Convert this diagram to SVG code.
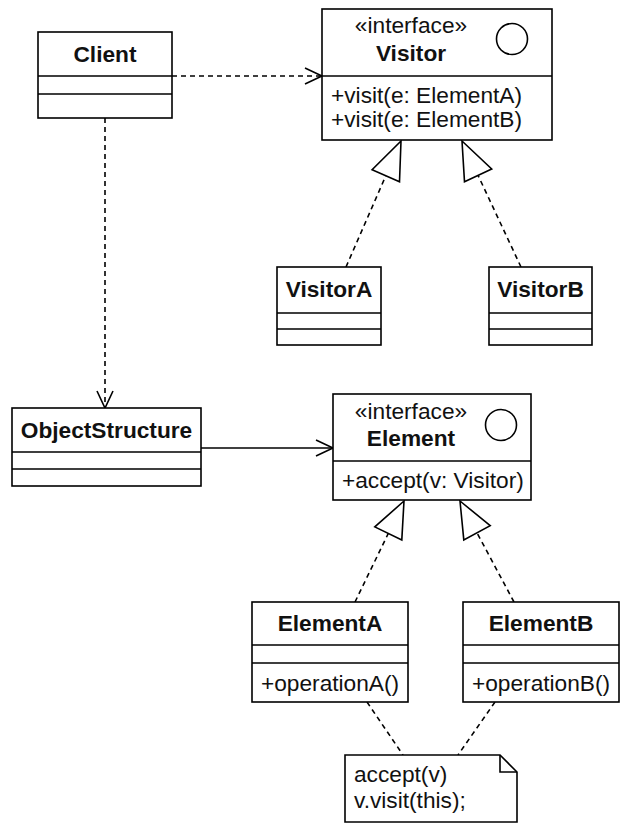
<svg xmlns="http://www.w3.org/2000/svg" width="623" height="825" viewBox="0 0 623 825">
<style>
.box{fill:#fff;stroke:#000;stroke-width:1.6}
.ln{fill:none;stroke:#000;stroke-width:1.6}
.dash{fill:none;stroke:#000;stroke-width:1.6;stroke-dasharray:5 4}
.tri{fill:#fff;stroke:#000;stroke-width:1.6;stroke-linejoin:miter}
.t{font-family:"Liberation Sans",Arial,sans-serif;font-size:22.7px;fill:#111}
.b{font-weight:bold}
.c{text-anchor:middle}
</style>
<g id="connectors">
<path class="dash" d="M172,76 H321"/>
<path class="ln" d="M305,68 L322,76 L305,84"/>
<path class="dash" d="M105,118 V407"/>
<path class="ln" d="M97,391 L105,408 L113,391"/>
<path class="ln" d="M201,448 H332"/>
<path class="ln" d="M316,440 L333,448 L316,456"/>
<path class="dash" d="M346,267 L385.8,175.8"/>
<polygon class="tri" points="401,141 372.1,169.8 399.5,181.8"/>
<path class="dash" d="M521,267 L478.1,175.4"/>
<polygon class="tri" points="462,141 491.7,169 464.5,181.8"/>
<path class="dash" d="M355,602 L388.3,533.4"/>
<polygon class="tri" points="404,501 374.8,526.9 401.8,539.9"/>
<path class="dash" d="M514,602 L477,532.8"/>
<polygon class="tri" points="460,501 490.2,525.7 463.8,539.9"/>
<path class="dash" d="M367,702 L403,755"/>
<path class="dash" d="M495,702 L458,755"/>
</g>
<g id="client">
<rect class="box" x="38" y="32" width="134" height="86"/>
<path class="ln" d="M38,76 H172 M38,94 H172"/>
<text class="t b c" x="105" y="62">Client</text>
</g>
<g id="visitor">
<rect class="box" x="322" y="9" width="230" height="131"/>
<path class="ln" d="M322,76 H552"/>
<circle class="ln" cx="512" cy="39" r="15.5"/>
<text class="t c" x="411" y="33">«interface»</text>
<text class="t b c" x="411" y="61">Visitor</text>
<text class="t" x="331" y="103">+visit(e: ElementA)</text>
<text class="t" x="331" y="127">+visit(e: ElementB)</text>
</g>
<g id="visitorA">
<rect class="box" x="277" y="267" width="104" height="78"/>
<path class="ln" d="M277,313 H381 M277,329 H381"/>
<text class="t b c" x="329" y="297">VisitorA</text>
</g>
<g id="visitorB">
<rect class="box" x="489" y="267" width="103" height="78"/>
<path class="ln" d="M489,313 H592 M489,329 H592"/>
<text class="t b c" x="540.5" y="297">VisitorB</text>
</g>
<g id="objectStructure">
<rect class="box" x="12" y="408" width="189" height="78"/>
<path class="ln" d="M12,452 H201 M12,469 H201"/>
<text class="t b c" x="106.5" y="438">ObjectStructure</text>
</g>
<g id="element">
<rect class="box" x="333" y="394" width="198" height="106"/>
<path class="ln" d="M333,461 H531"/>
<circle class="ln" cx="501" cy="425" r="15.5"/>
<text class="t c" x="411" y="419">«interface»</text>
<text class="t b c" x="411" y="446">Element</text>
<text class="t" x="342" y="488">+accept(v: Visitor)</text>
</g>
<g id="elementA">
<rect class="box" x="252" y="602" width="156" height="100"/>
<path class="ln" d="M252,645 H408 M252,663 H408"/>
<text class="t b c" x="330" y="631">ElementA</text>
<text class="t" x="261" y="691">+operationA()</text>
</g>
<g id="elementB">
<rect class="box" x="463" y="602" width="156" height="100"/>
<path class="ln" d="M463,645 H619 M463,663 H619"/>
<text class="t b c" x="541" y="631">ElementB</text>
<text class="t" x="472" y="691">+operationB()</text>
</g>
<g id="note">
<path class="box" d="M345,755 H500 L517,772 V822 H345 Z"/>
<path class="ln" d="M500,755 V772 H517"/>
<text class="t" x="354" y="782">accept(v)</text>
<text class="t" x="354" y="808">v.visit(this);</text>
</g>
</svg>
